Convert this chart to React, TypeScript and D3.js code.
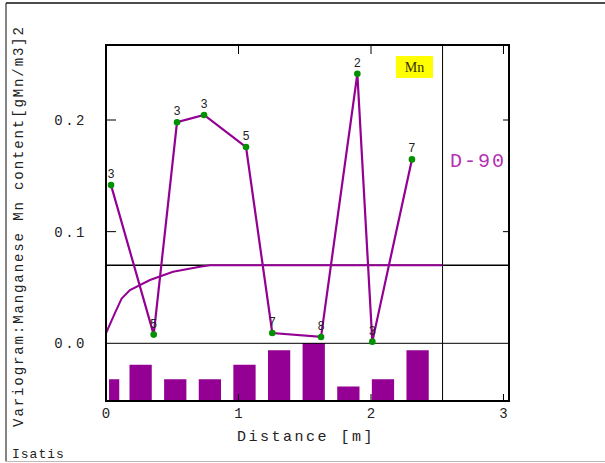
import React from "react";
import * as d3 from "d3";

// Experimental variogram (lag distance [m], variogram value, number of pairs)
const lagDistance = [0.038, 0.36, 0.536, 0.74, 1.057, 1.255, 1.623, 1.897, 2.01, 2.309];
const lagValue = [0.1417, 0.0078, 0.198, 0.2045, 0.1758, 0.0092, 0.0057, 0.2414, 0.0015, 0.1647];
const lagPairs = [3, 5, 3, 3, 5, 7, 8, 2, 3, 7];

// Histogram of pairs: bar centres (lag index * lag)
const lagStep = 0.2613;
const histCenters = [0, 1, 2, 3, 4, 5, 6, 7, 8, 9].map((k) => k * lagStep);

// Fitted model curve
const modelDistance = [0.0, 0.067, 0.118, 0.181, 0.332, 0.506, 0.709, 0.785, 2.54];
const modelValue = [0.009, 0.027, 0.04, 0.0477, 0.0567, 0.0641, 0.0686, 0.07, 0.07];

const sill = 0.07;
const xTicks = [0, 1, 2, 3];
const yTicks = [0.0, 0.1, 0.2];
const yTickLabels = ["0.0", "0.1", "0.2"];
const directionLabel = "D-90";
const variableLabel = "Mn";
const xTitle = "Distance [m]";
const yTitle = "Variogram:Manganese Mn content[gMn/m3]2";

export default function App() {
  const W = 605;
  const H = 463;
  const left = 106;
  const right = 509;
  const top = 45;
  const bottom = 401;

  const x = d3.scaleLinear().domain([0, 3]).range([106, 503.5]);
  const y = d3.scaleLinear().domain([0, 0.2]).range([343.3, 120]);
  const yc = d3.scaleLinear().domain([0, 8]).range([bottom, 343]);

  const purple = "#930093";
  const mono = "'Liberation Mono', 'DejaVu Sans Mono', monospace";

  const expLine = d3
    .line<number>()
    .x((d, i) => x(lagDistance[i]))
    .y((d) => y(d));
  const modelLine = d3
    .line<number>()
    .x((d, i) => x(modelDistance[i]))
    .y((d) => y(d));

  const halfW = 0.084;

  return (
    <svg
      width={W}
      height={H}
      style={{ position: "absolute", left: 0, top: 0, background: "#fff" }}
    >
      {/* outer frame */}
      <line x1={6} y1={3} x2={W} y2={3} stroke="#111" strokeWidth={1.5} />
      <line x1={6} y1={3} x2={6} y2={461.5} stroke="#333" strokeWidth={1.2} />
      <line x1={6} y1={461.5} x2={W} y2={461.5} stroke="#bbb" strokeWidth={1} />

      {/* histogram bars */}
      {histCenters.map((c, i) => {
        const x0 = i === 0 ? x(0.023) : x(c - halfW);
        const x1 = i === 0 ? x(0.1) : x(c + halfW);
        return (
          <rect
            key={"b" + i}
            x={x0}
            y={yc(lagPairs[i])}
            width={x1 - x0}
            height={bottom - yc(lagPairs[i])}
            fill={purple}
          />
        );
      })}

      {/* reference lines */}
      <line x1={left} x2={right} y1={y(0)} y2={y(0)} stroke="#000" strokeWidth={1} />
      <line x1={left} x2={right} y1={y(sill)} y2={y(sill)} stroke="#000" strokeWidth={1.5} />
      <line x1={x(2.54)} x2={x(2.54)} y1={top} y2={bottom} stroke="#000" strokeWidth={1} />

      {/* model */}
      <path d={modelLine(modelValue) || ""} fill="none" stroke={purple} strokeWidth={2} />

      {/* experimental variogram */}
      <path d={expLine(lagValue) || ""} fill="none" stroke={purple} strokeWidth={2.2} />
      {lagValue.map((v, i) => (
        <g key={"p" + i}>
          <circle cx={x(lagDistance[i])} cy={y(v)} r={3.3} fill="#009000" />
          <text
            x={x(lagDistance[i])}
            y={y(v) - 7}
            textAnchor="middle"
            fontFamily="'Liberation Sans', Arial, sans-serif"
            fontSize={12}
            fill="#222"
          >
            {lagPairs[i]}
          </text>
        </g>
      ))}

      {/* frame */}
      <rect x={left} y={top} width={right - left} height={bottom - top} fill="none" stroke="#000" strokeWidth={2} />

      {/* ticks */}
      {yTicks.slice(1).map((t, i) => (
        <g key={"yt" + i}>
          <line x1={left} x2={left + 10} y1={y(t)} y2={y(t)} stroke="#000" strokeWidth={1} />
          <line x1={right - 6} x2={right} y1={y(t)} y2={y(t)} stroke="#000" strokeWidth={1} />
        </g>
      ))}
      {xTicks.slice(1).map((t, i) => (
        <g key={"xt" + i}>
          <line x1={x(t)} x2={x(t)} y1={top} y2={top + 9} stroke="#000" strokeWidth={1} />
          <line x1={x(t)} x2={x(t)} y1={bottom - 7} y2={bottom} stroke="#000" strokeWidth={1} />
        </g>
      ))}

      {/* tick labels */}
      {yTicks.map((t, i) => (
        <text
          key={"yl" + i}
          x={87}
          y={y(t)}
          dy="0.35em"
          textAnchor="end"
          fontFamily={mono}
          fontSize={14}
          letterSpacing={2.5}
          fill="#222"
        >
          {yTickLabels[i]}
        </text>
      ))}
      {xTicks.map((t, i) => (
        <text
          key={"xl" + i}
          x={x(t)}
          y={413}
          dy="0.35em"
          textAnchor="middle"
          fontFamily={mono}
          fontSize={14}
          fill="#222"
        >
          {t}
        </text>
      ))}

      {/* titles */}
      <text
        x={306}
        y={436}
        dy="0.35em"
        textAnchor="middle"
        fontFamily={mono}
        fontSize={15}
        letterSpacing={2.5}
        fill="#222"
      >
        {xTitle}
      </text>
      <text
        transform="translate(18,226) rotate(-90)"
        dy="0.35em"
        textAnchor="middle"
        fontFamily={mono}
        fontSize={14}
        letterSpacing={1.9}
        fill="#222"
      >
        {yTitle}
      </text>
      <text x={12} y={453} dy="0.35em" fontFamily={mono} fontSize={13} letterSpacing={1} fill="#222">
        Isatis
      </text>

      {/* variable legend */}
      <rect x={396} y={56} width={37} height={22} fill="#ffff00" />
      <text
        x={414.5}
        y={67}
        dy="0.35em"
        textAnchor="middle"
        fontFamily="'Liberation Serif', 'Times New Roman', serif"
        fontSize={14}
        fill="#333300"
      >
        {variableLabel}
      </text>

      {/* direction label */}
      <text
        x={450}
        y={159.5}
        dy="0.35em"
        fontFamily={mono}
        fontSize={20}
        letterSpacing={2}
        fill="#b530b5"
      >
        {directionLabel}
      </text>
    </svg>
  );
}
